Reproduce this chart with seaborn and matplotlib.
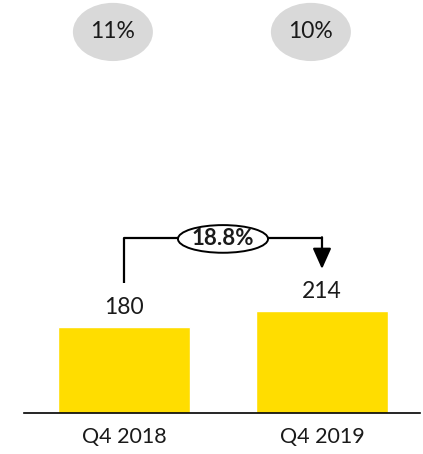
import matplotlib
matplotlib.use("Agg")
import matplotlib.pyplot as plt
from matplotlib.patches import Ellipse
import seaborn as sns
import pandas as pd

categories = ["Q4 2018", "Q4 2019"]
values = [180, 214]
margins = ["11%", "10%"]
growth_label = "18.8%"

sns.set_theme(style="white")
plt.rcParams['font.family'] = ['Lato', 'DejaVu Sans']

W, H = 423, 454
fig = plt.figure(figsize=(W / 100, H / 100), dpi=100)
ax = fig.add_axes([24 / W, (H - 413) / H, 396 / W, 413 / H])

df = pd.DataFrame({"cat": categories, "val": values})
sns.barplot(data=df, x="cat", y="val", color="#FFDD00", saturation=1,
            width=0.667, ax=ax)

ax.set_xlim(-0.505, 1.495)
ax.set_ylim(0, 866)
ax.set_xlabel("")
ax.set_ylabel("")
ax.set_yticks([])
for s in ["top", "left", "right"]:
    ax.spines[s].set_visible(False)
ax.spines["bottom"].set_color("black")
ax.spines["bottom"].set_linewidth(1.2)
ax.tick_params(axis="x", length=0, pad=10, labelsize=15.5, colors="#1a1a1a")

# value labels
for i, v in enumerate(values):
    ax.text(i, v + 41, str(v), ha="center", va="center", fontsize=16.5, color="#1a1a1a")

# margin ovals
for i, m in enumerate(margins):
    cx = i - 0.056
    ax.add_patch(Ellipse((cx, 799), 0.404, 122, facecolor="#d9d9d9",
                         edgecolor="none", clip_on=False))
    ax.text(cx, 799, m, ha="center", va="center", fontsize=16.5, color="#1a1a1a")

# growth bracket
top = max(values) + 153
lw = 1.6
ax.plot([0, 0], [values[0] + 92, top], color="black", lw=lw, solid_capstyle="butt")
ax.plot([0, 0.273], [top, top], color="black", lw=lw)
ax.plot([0.727, 1], [top, top], color="black", lw=lw)
ax.annotate("", xy=(1, values[1] + 88), xytext=(1, top + 1.5),
            arrowprops=dict(arrowstyle="-|>,head_length=1.05,head_width=0.47",
                            color="black", lw=lw, shrinkA=0, shrinkB=0))
ax.add_patch(Ellipse((0.5, top - 2), 0.455, 58, facecolor="white",
                     edgecolor="black", lw=1.4))
ax.text(0.5, top - 2, growth_label, ha="center", va="center", fontsize=16,
        fontweight="bold", color="#1a1a1a")

fig.savefig("out.png", dpi=100)
